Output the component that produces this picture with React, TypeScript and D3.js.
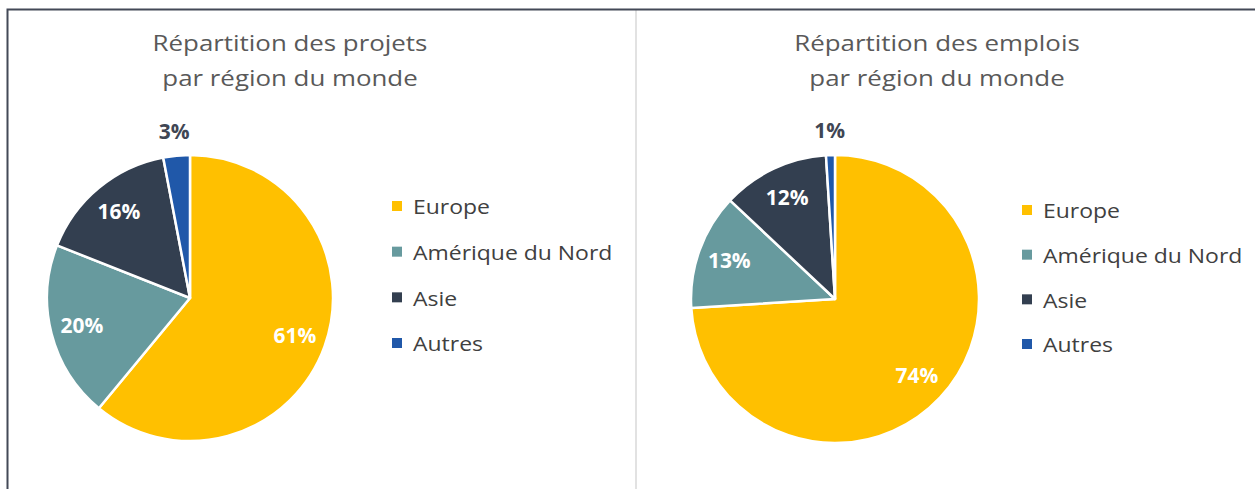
import React from "react";
import * as d3 from "d3";

const regions = ["Europe", "Amérique du Nord", "Asie", "Autres"];
const projets = [61, 20, 16, 3];
const emplois = [74, 13, 12, 1];
const titresProjets = ["Répartition des projets", "par région du monde"];
const titresEmplois = ["Répartition des emplois", "par région du monde"];
const couleurs = ["#FFC000", "#679A9E", "#333F50", "#2058A9"];

const W = 1255;
const H = 489;
const FONT = "'Open Sans', sans-serif";

const color = d3.scaleOrdinal<string, string>().domain(regions).range(couleurs);

// texte étiré horizontalement (la capture d'origine est un peu élargie)
function SText(props: any) {
  const { x, y, sx, children, ...rest } = props;
  return (
    <text transform={`translate(${x},${y}) scale(${sx},1)`} fontFamily={FONT} {...rest}>
      {children}
    </text>
  );
}

function PieBlock(props: {
  values: number[];
  titles: string[];
  cx: number;
  cy: number;
  r: number;
  titleX: number;
  legendX: number;
  legendY: number;
  legendH: number;
}) {
  const { values, titles, cx, cy, r, titleX, legendX, legendY, legendH } = props;
  const pie = d3.pie<number>().value(d => d).sort(null);
  const arcs = pie(values);
  const arc = d3.arc<d3.PieArcDatum<number>>().innerRadius(0).outerRadius(r);
  const legendStep = d3.scalePoint<string>().domain(regions).range([0, legendH]);

  return (
    <g>
      {titles.map((t, i) => (
        <SText
          key={t}
          x={titleX}
          y={51 + i * 35}
          sx={1.15}
          textAnchor="middle"
          fontSize={22.5}
          fill="#595959"
        >
          {t}
        </SText>
      ))}
      <g transform={`translate(${cx},${cy})`}>
        {arcs.map((a, i) => (
          <path
            key={i}
            d={arc(a) || ""}
            fill={color(regions[i])}
            stroke="#fff"
            strokeWidth={2.5}
            strokeLinejoin="round"
          />
        ))}
        {arcs.map((a, i) => {
          const mid = (a.startAngle + a.endAngle) / 2;
          const outside = a.data < 5;
          const k = outside ? 1.17 : 0.78;
          const x = Math.sin(mid) * r * k;
          const y = -Math.cos(mid) * r * k;
          return (
            <SText
              key={"l" + i}
              x={x}
              y={y}
              sx={1.02}
              dy="0.35em"
              textAnchor="middle"
              fontWeight={700}
              fontSize={20.5}
              fill={outside ? "#404654" : "#fff"}
            >
              {a.data + "%"}
            </SText>
          );
        })}
      </g>
      <g transform={`translate(${legendX},${legendY})`}>
        {regions.map(reg => (
          <g key={reg} transform={`translate(0,${legendStep(reg)})`}>
            <rect x={0} y={-6} width={10} height={10} fill={color(reg)} />
            <SText x={21} y={0} sx={1.12} dy="0.35em" fontSize={20.5} fill="#404040">
              {reg}
            </SText>
          </g>
        ))}
      </g>
    </g>
  );
}

export default function App() {
  return (
    <svg
      width={W}
      height={H}
      style={{ position: "absolute", left: 0, top: 0, background: "#fff" }}
    >
      <rect x={0} y={0} width={W} height={H} fill="#fff" />
      <line x1={636} x2={636} y1={10} y2={H} stroke="#e2e2e2" strokeWidth={2} />
      <rect
        x={7.5}
        y={9.5}
        width={1400}
        height={700}
        fill="none"
        stroke="#434957"
        strokeWidth={2}
      />
      <PieBlock
        values={projets}
        titles={titresProjets}
        cx={190}
        cy={298}
        r={143}
        titleX={290}
        legendX={392}
        legendY={207}
        legendH={137}
      />
      <PieBlock
        values={emplois}
        titles={titresEmplois}
        cx={835}
        cy={299}
        r={144}
        titleX={937}
        legendX={1022}
        legendY={211}
        legendH={134}
      />
    </svg>
  );
}
